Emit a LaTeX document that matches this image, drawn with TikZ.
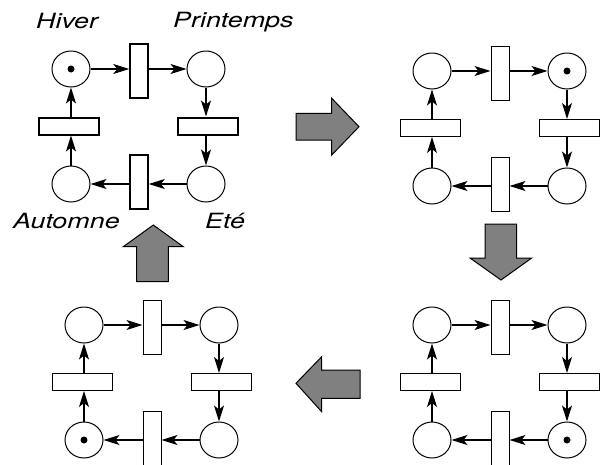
\documentclass[tikz,border=0pt]{standalone}
\usepackage{graphicx}
\usepackage{fontspec}
\setmainfont{TeX Gyre Heros}
\usetikzlibrary{arrows.meta,shapes.geometric}
\tikzset{
  place/.style={ellipse, draw, line width=1pt, minimum width=38pt, minimum height=36pt, inner sep=0pt},
  vtrans/.style={rectangle, draw, line width=1pt, minimum width=18pt, minimum height=54pt, inner sep=0pt},
  htrans/.style={rectangle, draw, line width=1pt, minimum width=60pt, minimum height=17pt, inner sep=0pt},
  arc/.style={line width=1.1pt, -{Stealth[length=16pt,width=10pt,inset=4pt]}},
  token/.style={circle, fill, minimum size=7pt, inner sep=0pt},
  season/.style={anchor=base west, inner sep=0pt, font=\fontsize{21}{25}\selectfont\itshape},
  blockarrow/.style={fill={rgb,255:red,128;green,128;blue,128}, draw=black, line width=1pt, line join=miter},
  boldnet/.style={htrans/.append style={line width=2pt}, vtrans/.append style={line width=1.5pt}},
}
\newcommand\petrinet[5][]{%
  \begin{scope}[shift={(#3,#4)},#1]
    \node[place] (#2h) at (0,0) {};
    \node[place] (#2p) at (135,0) {};
    \node[place] (#2e) at (135,115) {};
    \node[place] (#2a) at (0,115) {};
    \node[vtrans] (#2t1) at (68,2) {};
    \node[htrans] (#2t2) at (137,57) {};
    \node[vtrans] (#2t3) at (68,113) {};
    \node[htrans] (#2t4) at (-2,57) {};
    \node[token] (#2tok) at (#2#5) {};
    \draw[arc] (#2h.east) -- (#2h.east -| #2t1.west);
    \draw[arc] (#2t1.east |- #2p.west) -- (#2p.west);
    \draw[arc] (#2p.south) -- (#2p.south |- #2t2.north);
    \draw[arc] (#2e.north |- #2t2.south) -- (#2e.north);
    \draw[arc] (#2e.west) -- (#2e.west -| #2t3.east);
    \draw[arc] (#2t3.west |- #2a.east) -- (#2a.east);
    \draw[arc] (#2a.north) -- (#2a.north |- #2t4.south);
    \draw[arc] (#2h.south |- #2t4.north) -- (#2h.south);
  \end{scope}}
\begin{document}
\begin{tikzpicture}[x=1pt,y=-1pt]
  \useasboundingbox (0,0) rectangle (600,464);
  \fill[white] (0,0) rectangle (600,464);
  % nets
  \petrinet[boldnet]{A}{71}{69}{h}
  \petrinet{B}{432}{71}{p}
  \petrinet{C}{432}{325}{e}
  \petrinet{D}{84}{325}{a}
  % labels
  \node[season] (lhiver) at (36,28) {\scalebox{1.28}[1]{Hiver}};
  \node[season] (lprint) at (173,27.5) {\scalebox{1.28}[1]{Printemps}};
  \node[season] (lautom) at (13,228) {\scalebox{1.28}[1]{Automne}};
  \node[season] (lete) at (205,228) {\scalebox{1.28}[1]{Eté}};
  % block arrows
  \draw[blockarrow] (296,113.3) -- (331.7,113.3) -- (331.7,98.3) -- (359,126.7)
    -- (331.7,155) -- (331.7,140) -- (296,140) -- cycle;
  \draw[blockarrow] (485,224) -- (516.7,224) -- (516.7,258) -- (531.7,258) -- (501,280)
    -- (470,258) -- (485,258) -- cycle;
  \draw[blockarrow] (360,370) -- (321.7,370) -- (321.7,356.7) -- (296,383.3)
    -- (321.7,411.7) -- (321.7,398.3) -- (360,398.3) -- cycle;
  \draw[blockarrow] (136.7,281.7) -- (136.7,246.7) -- (123.3,246.7) -- (153.3,225)
    -- (183.3,246.7) -- (168.3,246.7) -- (168.3,281.7) -- cycle;
\end{tikzpicture}
\end{document}
